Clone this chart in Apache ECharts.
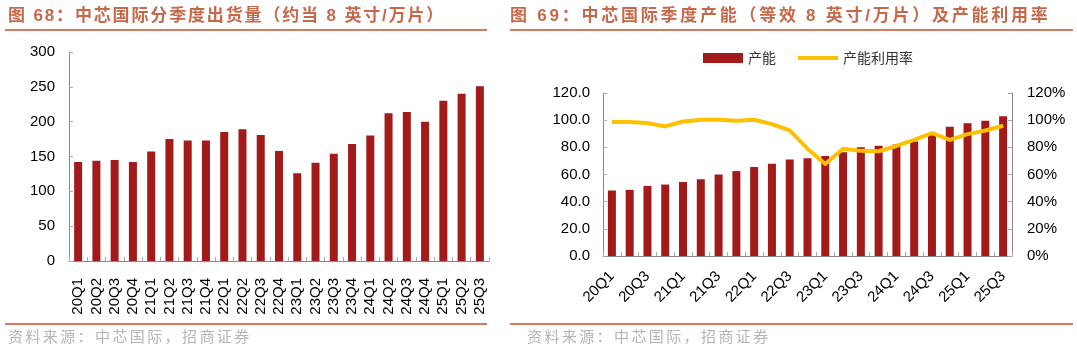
<!DOCTYPE html>
<html>
<head>
<meta charset="utf-8">
<script src="https://cdn.jsdelivr.net/npm/echarts@6/dist/echarts.min.js"></script>
<style>
body{margin:0;background:#fff;}
#wrap{position:relative;width:1077px;height:352px;overflow:hidden;}
#chart{position:absolute;left:0;top:0;width:1077px;height:352px;}
.ttl{position:absolute;top:6px;font-family:"Liberation Sans","Noto Sans CJK SC";font-weight:700;font-size:17px;letter-spacing:2.6px;color:#c8684a;white-space:nowrap;line-height:20px;}
.ln{position:absolute;height:2px;background:#d27b5e;}
.src{position:absolute;top:327px;font-family:"Noto Sans CJK SC";font-size:15px;letter-spacing:2.4px;color:#b4b4b4;white-space:nowrap;line-height:18px;}
</style>
</head>
<body>
<div id="wrap">
<div id="chart"></div>
<div class="ttl" style="left:8px;letter-spacing:1.85px">图 68：中芯国际分季度出货量（约当 8 英寸/万片）</div>
<div class="ttl" style="left:510px;letter-spacing:2.75px">图 69：中芯国际季度产能（等效 8 英寸/万片）及产能利用率</div>
<div class="ln" style="left:5px;width:482px;top:29px"></div>
<div class="ln" style="left:510px;width:563px;top:29px"></div>
<div class="ln" style="left:5px;width:482px;top:323px"></div>
<div class="ln" style="left:510px;width:563px;top:323px"></div>
<div class="src" style="left:8px">资料来源：中芯国际，招商证券</div>
<div class="src" style="left:527px">资料来源：中芯国际，招商证券</div>
</div>
<script>
var quarters = ['20Q1','20Q2','20Q3','20Q4','21Q1','21Q2','21Q3','21Q4','22Q1','22Q2','22Q3','22Q4',
    '23Q1','23Q2','23Q3','23Q4','24Q1','24Q2','24Q3','24Q4','25Q1','25Q2','25Q3'];
// 出货量（约当8英寸/万片）
var shipments = [142,144,145,142,157,175,173,173,185,189,181,158,126,141,154,168,180,212,214,200,230,240,251];
// 产能（等效8英寸/万片）
var capacity = [48.2,48.7,51.6,52.6,54.5,56.5,60.0,62.5,65.5,68.0,71.0,72.0,73.7,76.4,80.1,81.1,82.0,84.3,89.2,95.1,97.8,99.6,102.8];
// 产能利用率（%）
var utilization = [98.6,98.6,97.9,95.4,99.1,100.3,100.3,99.6,100.3,97.1,92.5,79.0,67.8,78.9,77.4,77.1,81.0,85.5,90.4,85.5,89.7,92.4,95.9];

var axisFont = {fontFamily:'Liberation Sans',fontSize:15,color:'#000'};
var axisLine = {show:true,lineStyle:{color:'#888',width:1}};
var axisTick = {show:true,inside:true,length:4,lineStyle:{color:'#aaa'}};

var chart = echarts.init(document.getElementById('chart'));
var option = {
    animation:false,
    legend:{
        left:698,
        top:46,
        itemWidth:40,
        itemHeight:10,
        itemGap:20,
        textStyle:{fontFamily:'Noto Sans CJK SC',fontSize:14,color:'#333'},
        data:[
            {name:'产能',icon:'rect'},
            {name:'产能利用率',itemStyle:{opacity:0},lineStyle:{width:4}}   // 只要线，不要圆点
        ]
    },
    grid:[
        {left:69,top:52,width:420,height:209},
        {left:603,top:93,width:409,height:163}
    ],
    xAxis:[
        {
            type:'category',gridIndex:0,data:quarters,
            axisLine:axisLine,axisTick:axisTick,
            axisLabel:Object.assign({rotate:90,interval:0,margin:17},axisFont)
        },
        {
            type:'category',gridIndex:1,data:quarters,
            axisLine:axisLine,axisTick:Object.assign({interval:0},axisTick),
            axisLabel:Object.assign({rotate:45,interval:1,margin:18},axisFont)
        }
    ],
    yAxis:[
        {
            type:'value',gridIndex:0,min:0,max:300,interval:50,
            axisLine:axisLine,axisTick:axisTick,splitLine:{show:false},
            axisLabel:Object.assign({margin:14},axisFont)
        },
        {
            type:'value',gridIndex:1,min:0,max:120,interval:20,
            axisLine:axisLine,axisTick:axisTick,splitLine:{show:false},
            axisLabel:Object.assign({margin:13,formatter:function(v){return v.toFixed(1)}},axisFont)
        },
        {
            type:'value',gridIndex:1,position:'right',min:0,max:120,interval:20,
            axisLine:axisLine,axisTick:axisTick,splitLine:{show:false},
            axisLabel:Object.assign({margin:15,formatter:'{value}%'},axisFont)
        }
    ],
    series:[
        {
            name:'出货量',type:'bar',xAxisIndex:0,yAxisIndex:0,
            barWidth:8,itemStyle:{color:'#a21a1a'},
            data:shipments
        },
        {
            name:'产能',type:'bar',xAxisIndex:1,yAxisIndex:1,
            barWidth:8,itemStyle:{color:'#a21a1a'},
            data:capacity
        },
        {
            name:'产能利用率',type:'line',xAxisIndex:1,yAxisIndex:2,
            symbol:'none',
            lineStyle:{color:'#ffc000',width:4,join:'round'},
            itemStyle:{color:'#ffc000'},
            data:utilization
        }
    ]
};
chart.setOption(option);
</script>
</body>
</html>
